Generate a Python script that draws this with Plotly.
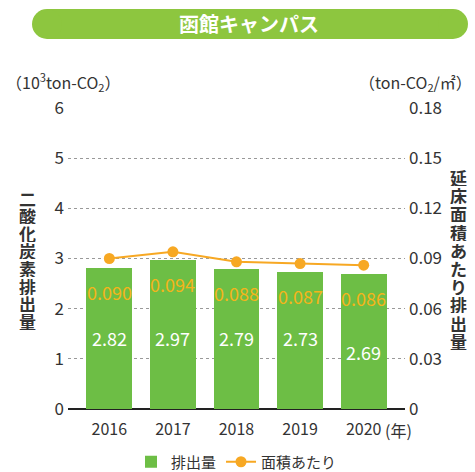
import plotly.graph_objects as go

# Hakodate campus CO2 emissions
years = [2016, 2017, 2018, 2019, 2020]
emissions = [2.82, 2.97, 2.79, 2.73, 2.69]          # 10^3 ton-CO2
per_area = [0.090, 0.094, 0.088, 0.087, 0.086]      # ton-CO2/m2
emission_label_y = [1.41, 1.41, 1.41, 1.41, 1.14]   # vertical placement of the bar value labels

left_ticks = [0, 1, 2, 3, 4, 5, 6]
right_ticks = [0, 0.03, 0.06, 0.09, 0.12, 0.15, 0.18]
right_ticktext = ["0", "0.03", "0.06", "0.09", "0.12", "0.15", "0.18"]

left_title = "二酸化炭素排出量"
right_title = "延床面積あたり排出量"

FONT = "Noto Sans CJK JP"
BAR_GREEN = "#6DBE45"
BANNER_GREEN = "#8DC63F"
LINE_ORANGE = "#F7A823"
LABEL_ORANGE = "#F5B41A"
TEXT = "#333333"

W, H = 475, 472
ML, MR, MT, MB = 68, 70, 108, 63
PW, PH = W - ML - MR, H - MT - MB


def px(x):
    return (x - ML) / PW


def py(y):
    return (H - MB - y) / PH


def note(x, y, text, size, color=TEXT, xanchor="center", **kw):
    return dict(x=px(x), y=py(y), xref="paper", yref="paper", text=text, showarrow=False,
                xanchor=xanchor, yanchor="middle",
                font=dict(family=FONT, size=size, color=color), **kw)


fig = go.Figure()
fig.add_trace(go.Bar(
    x=years, y=emissions, name="排出量", width=0.72,
    marker=dict(color=BAR_GREEN, line=dict(width=0)),
    hoverinfo="skip",
))
fig.add_trace(go.Scatter(
    x=years, y=per_area, name="面積あたり", yaxis="y2",
    mode="lines+markers",
    line=dict(color=LINE_ORANGE, width=2),
    marker=dict(color=LINE_ORANGE, size=11),
    hoverinfo="skip",
))

annotations = []
for yr, v, ly in zip(years, emissions, emission_label_y):
    annotations.append(dict(x=yr, y=ly, xref="x", yref="y", text=f"{v:.2f}",
                            showarrow=False, yanchor="middle",
                            font=dict(family=FONT, size=18, color="white")))
for yr, v, e in zip(years, per_area, emissions):
    annotations.append(dict(x=yr, y=e, xref="x", yref="y", yshift=-24, text=f"{v:.3f}",
                            showarrow=False, yanchor="middle",
                            font=dict(family=FONT, size=18, color=LABEL_ORANGE)))

# title banner text
annotations.append(note(249, 24, "<b>函館キャンパス</b>", 20, "white"))
# unit labels
annotations.append(note(4, 82, "（10<sup>3</sup>ton-CO<sub>2</sub>）", 16, xanchor="left"))
annotations.append(note(474, 82, "（ton-CO<sub>2</sub>/㎡）", 16, xanchor="right"))
# vertical axis titles, one character per line
for i, ch in enumerate(left_title):
    annotations.append(note(27, 198 + i * 17.6, f"<b>{ch}</b>", 17, height=17))
for i, ch in enumerate(right_title):
    annotations.append(note(458, 177 + i * 18.2, f"<b>{ch}</b>", 17, height=18))
# year unit
annotations.append(note(383, 430, "(年)", 16, xanchor="left"))

shapes = [
    dict(type="rect", xref="paper", yref="paper", x0=px(47), x1=px(453), y0=py(39), y1=py(9),
         fillcolor=BANNER_GREEN, line=dict(width=0), layer="below"),
    dict(type="circle", xref="paper", yref="paper", x0=px(32), x1=px(62), y0=py(39), y1=py(9),
         fillcolor=BANNER_GREEN, line=dict(width=0), layer="below"),
    dict(type="circle", xref="paper", yref="paper", x0=px(438), x1=px(468), y0=py(39), y1=py(9),
         fillcolor=BANNER_GREEN, line=dict(width=0), layer="below"),
]

fig.update_layout(
    width=W, height=H,
    margin=dict(l=ML, r=MR, t=MT, b=MB, pad=0, autoexpand=False),
    paper_bgcolor="white", plot_bgcolor="white",
    font=dict(family=FONT, color=TEXT),
    showlegend=True,
    legend=dict(orientation="h", x=0.5, xanchor="center", yref="container",
                y=1 - 462 / H, yanchor="middle",
                font=dict(family=FONT, size=15, color=TEXT), traceorder="normal"),
    xaxis=dict(range=[years[0] - 0.65, years[-1] + 0.65], tickvals=years,
               ticktext=[str(y) for y in years], showgrid=False, zeroline=False,
               showline=False, ticks="", ticklabelstandoff=9,
               tickfont=dict(size=16, color=TEXT), automargin=False),
    yaxis=dict(range=[0, 6], tickvals=left_ticks, showgrid=True, gridcolor="#999999",
               griddash="dot", gridwidth=1, zeroline=True, zerolinecolor="#222222",
               zerolinewidth=1.5, ticks="", ticklabelstandoff=3, automargin=False,
               tickfont=dict(size=17, color=TEXT)),
    yaxis2=dict(range=[0, 0.18], overlaying="y", side="right", tickvals=right_ticks,
                ticktext=right_ticktext, showgrid=False, zeroline=False, ticks="",
                ticklabelstandoff=3, automargin=False, tickfont=dict(size=17, color=TEXT)),
    annotations=annotations,
    shapes=shapes,
    bargap=0,
)

fig.write_html("out.html")
